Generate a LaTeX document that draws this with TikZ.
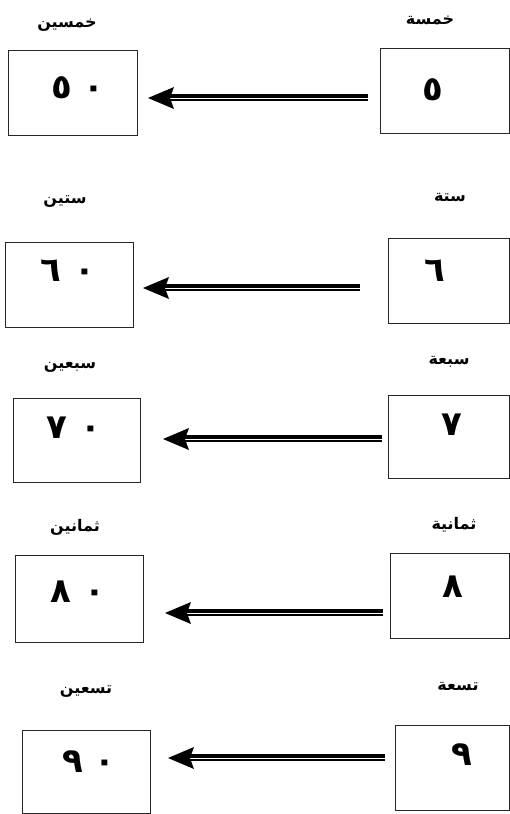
\documentclass[tikz,border=0pt]{standalone}
\usepackage{fontspec}
\newfontfamily\arabicfont[Script=Arabic]{DejaVu Sans}
\TeXXeTstate=1
\usetikzlibrary{calc}
\begin{document}
\begin{tikzpicture}[x=1pt,y=-1pt,
  box/.style={draw=black!85, line width=0.9pt, inner sep=0pt, minimum height=85pt},
  lbl/.style={font=\arabicfont\bfseries\fontsize{16}{19}\selectfont, inner sep=0pt},
  dig/.style={font=\arabicfont\bfseries\fontsize{34}{38}\selectfont, inner sep=0pt},
  shaftA/.style={line width=3.4pt, black},
  shaftB/.style={line width=1.2pt, black},
  headA/.style={fill=black}
]
\useasboundingbox (0,0) rectangle (510,814);

% ---- boxes
\node[box, minimum width=129pt] (L1) at (72.5,92.5) {};
\node[box, minimum width=129pt] (R1) at (444.75,90.5) {};
\node[box, minimum width=128pt] (L2) at (69,284.5) {};
\node[box, minimum width=121.5pt] (R2) at (448.75,280.5) {};
\node[box, minimum width=127pt, minimum height=84pt] (L3) at (76.5,440) {};
\node[box, minimum width=121.5pt, minimum height=83pt] (R3) at (448.75,436.5) {};
\node[box, minimum width=128pt, minimum height=87pt] (L4) at (79,598.5) {};
\node[box, minimum width=119.5pt] (R4) at (449.75,595.5) {};
\node[box, minimum width=128pt, minimum height=83.5pt] (L5) at (86,771.75) {};
\node[box, minimum width=114.5pt] (R5) at (452.25,767.5) {};

% ---- labels
\node[lbl] (tL1) at (67,25) {\beginR خمسين\endR};
\node[lbl] (tR1) at (430,20) {\beginR خمسة\endR};
\node[lbl] (tL2) at (65,202) {\beginR ستين\endR};
\node[lbl] (tR2) at (450,198) {\beginR ستة\endR};
\node[lbl] (tL3) at (70,367) {\beginR سبعين\endR};
\node[lbl] (tR3) at (449,362) {\beginR سبعة\endR};
\node[lbl] (tL4) at (75,527) {\beginR ثمانين\endR};
\node[lbl] (tR4) at (454,525) {\beginR ثمانية\endR};
\node[lbl] (tL5) at (86,692) {\beginR تسعين\endR};
\node[lbl] (tR5) at (458,687) {\beginR تسعة\endR};

% ---- digits
\node[dig] (dL1) at (78,88) {٥\hspace{12pt}٠};
\node[dig] (dR1) at (433,90) {٥};
\node[dig] (dL2) at (68,271) {٦\hspace{14pt}٠};
\node[dig] (dR2) at (435,271) {٦};
\node[dig] (dL3) at (74,428) {٧\hspace{14pt}٠};
\node[dig] (dR3) at (452,425) {٧};
\node[dig] (dL4) at (78,592) {٨\hspace{14pt}٠};
\node[dig] (dR4) at (453,587) {٨};
\node[dig] (dL5) at (89,762) {٩\hspace{12pt}٠};
\node[dig] (dR5) at (462,755) {٩};

% ---- arrow end points
\coordinate (s1) at (368,96);  \coordinate (e1) at (148,96);
\coordinate (s2) at (360,286); \coordinate (e2) at (143,286);
\coordinate (s3) at (382,437); \coordinate (e3) at (163,437);
\coordinate (s4) at (383,611); \coordinate (e4) at (165,611);
\coordinate (s5) at (385,756); \coordinate (e5) at (168,756);

\foreach \k in {1,...,5}{
  \draw[shaftA] (s\k) -- ($(e\k)+(20,0)$);
  \draw[shaftB] ($(s\k)+(0,4)$) -- ($(e\k)+(20,4)$);
  \fill[headA] ($(e\k)+(0,2)$) -- ($(e\k)+(26,-9)$) -- ($(e\k)+(22,2)$) -- ($(e\k)+(26,13)$) -- cycle;
}
\end{tikzpicture}
\end{document}
